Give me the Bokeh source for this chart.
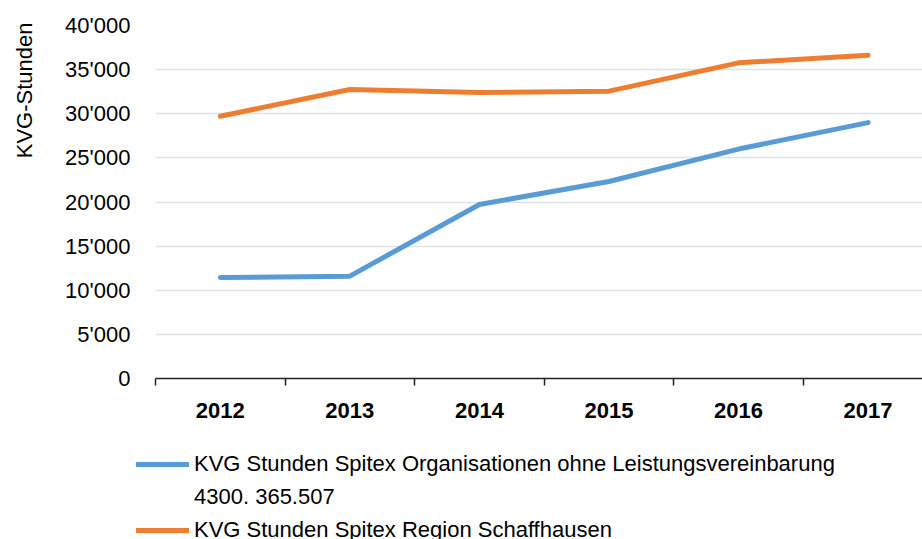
from bokeh.plotting import figure
from bokeh.models import FixedTicker, Legend, LegendItem, Title, Range1d
from bokeh.layouts import row, column
from bokeh.embed import file_html
from bokeh.resources import INLINE

# ---- data ----
years = ["2012", "2013", "2014", "2015", "2016", "2017"]
blue_vals = [11440, 11600, 19720, 22320, 26000, 29000]
orange_vals = [29720, 32750, 32410, 32560, 35770, 36640]
y_ticks = [0, 5000, 10000, 15000, 20000, 25000, 30000, 35000, 40000]
y_tick_labels = ["0", "5'000", "10'000", "15'000", "20'000", "25'000", "30'000", "35'000", "40'000"]
label_blue = "KVG Stunden Spitex Organisationen ohne Leistungsvereinbarung"
label_blue_2 = "4300. 365.507"
label_orange = "KVG Stunden Spitex Region Schaffhausen"
y_title = "KVG-Stunden"

FONT = "Liberation Sans"
BLUE = "#5B9BD5"
ORANGE = "#ED7D31"

x = list(range(len(years)))

# ---- narrow strip holding the y-axis title ----
p_yt = figure(width=40, height=440, x_range=Range1d(0, 1), y_range=Range1d(0, 1),
              output_backend="svg", toolbar_location=None,
              x_axis_location=None, y_axis_location=None,
              min_border_left=39, min_border_right=1, min_border_top=25, min_border_bottom=0)
p_yt.outline_line_color = None
p_yt.border_fill_color = "white"
p_yt.add_layout(Title(text=y_title, align="right", text_font=FONT, text_font_size="22px",
                      text_font_style="normal", text_color="black", offset=-3, standoff=6), "left")

# ---- main chart ----
p = figure(width=882, height=440,
           x_range=Range1d(-0.5, 5.42), y_range=Range1d(0, 40000),
           output_backend="svg", toolbar_location=None,
           min_border_left=115, min_border_right=0,
           min_border_top=25, min_border_bottom=62)
p.outline_line_color = None
p.background_fill_color = "white"
p.border_fill_color = "white"

# x axis: labels at category centres, tick marks at boundaries
xa = p.xaxis[0]
xa.ticker = FixedTicker(ticks=x, minor_ticks=[i - 0.5 for i in range(len(years) + 1)])
xa.major_label_overrides = {i: y for i, y in enumerate(years)}
xa.major_tick_out = 0
xa.major_tick_in = 0
xa.minor_tick_out = 7
xa.minor_tick_in = 0
xa.minor_tick_line_color = "#222222"
xa.minor_tick_line_width = 1.5
xa.axis_line_color = "#222222"
xa.axis_line_width = 1.5
xa.major_label_standoff = 17
xa.major_label_text_font = FONT
xa.major_label_text_font_size = "22px"
xa.major_label_text_font_style = "bold"
xa.major_label_text_color = "black"

ya = p.yaxis[0]
ya.ticker = FixedTicker(ticks=y_ticks)
ya.major_label_overrides = {t: l for t, l in zip(y_ticks, y_tick_labels)}
ya.axis_line_color = None
ya.major_tick_line_color = None
ya.minor_tick_line_color = None
ya.major_label_standoff = 19
ya.major_label_text_font = FONT
ya.major_label_text_font_size = "22px"
ya.major_label_text_color = "black"

p.xgrid.visible = False
p.ygrid.ticker = FixedTicker(ticks=y_ticks)
p.ygrid.grid_line_color = "#dde2e8"
p.ygrid.grid_line_width = 1.5

p.line(x, blue_vals, line_color=BLUE, line_width=5, line_cap="round", line_join="round")
p.line(x, orange_vals, line_color=ORANGE, line_width=5, line_cap="round", line_join="round")

# ---- legend strip below the chart (full width) ----
# its ranges keep the series out of view; the renderers only supply legend swatches
p_leg = figure(width=922, height=99, x_range=Range1d(100, 101), y_range=Range1d(0, 1),
               output_backend="svg", toolbar_location=None,
               x_axis_location=None, y_axis_location=None,
               min_border_left=136, min_border_right=0, min_border_top=11, min_border_bottom=0)
p_leg.outline_line_color = None
p_leg.border_fill_color = "white"
p_leg.grid.visible = False
lb = p_leg.line(x, blue_vals, line_color=BLUE, line_width=5, line_cap="round")
lx = p_leg.line(x, blue_vals, line_alpha=0)
lo = p_leg.line(x, orange_vals, line_color=ORANGE, line_width=5, line_cap="round")

leg = Legend(items=[LegendItem(label=label_blue, renderers=[lb]),
                    LegendItem(label=label_blue_2, renderers=[lx]),
                    LegendItem(label=label_orange, renderers=[lo])],
             location="top_left")
leg.padding = 0
leg.margin = 0
leg.border_line_color = None
leg.background_fill_alpha = 0
leg.glyph_width = 53
leg.glyph_height = 20
leg.label_height = 20
leg.label_standoff = 5
leg.spacing = 7
leg.label_text_font = FONT
leg.label_text_font_size = "22px"
leg.label_text_color = "black"
p_leg.add_layout(leg)

layout = column(row(p_yt, p, spacing=0), row(p_leg, spacing=0), spacing=0)

open("out.html", "w").write(file_html(layout, INLINE))
